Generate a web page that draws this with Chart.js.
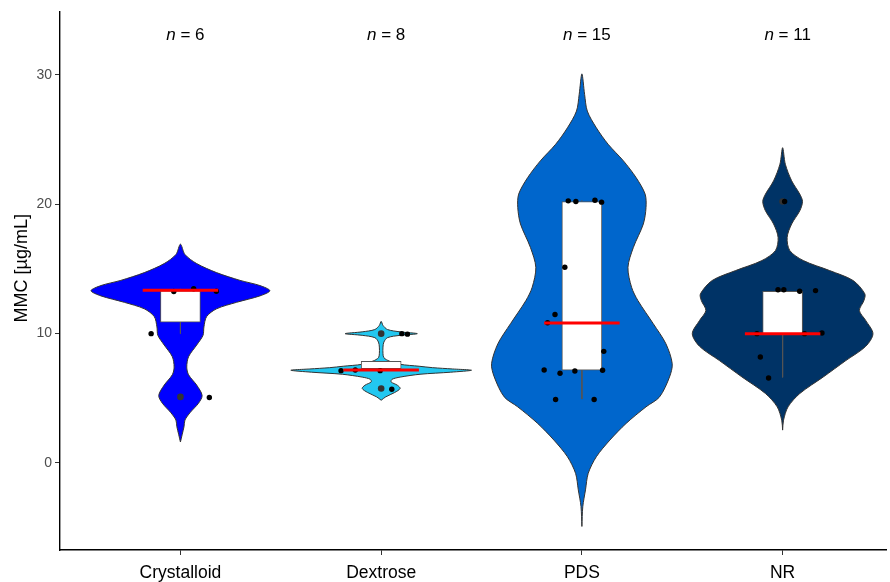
<!DOCTYPE html>
<html>
<head>
<meta charset="utf-8">
<script src="https://cdn.jsdelivr.net/npm/chart.js@4/dist/chart.umd.min.js"></script>
<style>
  body { margin: 0; background: #fff; }
  .chart_wrap { width: 890px; height: 582px; }
</style>
</head>
<body>
<div class="chart_wrap"><canvas id="mmc_violin"></canvas></div>
<script>
//! Data
const groups = ["Crystalloid", "Dextrose", "PDS", "NR"];
const groupCounts = [6, 8, 15, 11];
const yTicks = [0, 10, 20, 30];
const countLabelY = 33;

// violin outlines: y levels and relative density (1 = widest)
const crystalloidY = [1.6, 2.2, 2.8, 3.3, 3.9, 4.6, 5.2, 6.0, 6.8, 7.4, 8.2, 9.1, 9.85, 10.5, 11.3, 11.9, 12.4, 12.9, 13.3, 13.7, 14.1, 14.7, 15.4, 16.1, 16.9];
const crystalloidDensity = [0, 0.02, 0.04, 0.05, 0.11, 0.2, 0.24, 0.18, 0.09, 0.07, 0.09, 0.18, 0.25, 0.26, 0.29, 0.4, 0.62, 0.88, 0.99, 0.88, 0.66, 0.4, 0.18, 0.05, 0];

const dextroseY = [4.83, 5.09, 5.43, 5.74, 5.99, 6.25, 6.45, 6.62, 6.84, 7.0, 7.15, 7.25, 7.35, 7.46, 7.61, 7.86, 8.12, 8.43, 8.94, 9.33, 9.67, 9.85, 9.98, 10.12, 10.3, 10.62, 10.93];
const dextroseDensity = [0, 0.05, 0.15, 0.21, 0.18, 0.11, 0.12, 0.21, 0.43, 0.77, 1, 0.79, 0.57, 0.42, 0.21, 0.09, 0.03, 0.02, 0.02, 0.03, 0.07, 0.21, 0.4, 0.21, 0.07, 0.02, 0];

const pdsY = [-4.93, -3.39, -2.1, -0.82, 0.46, 1.75, 3.04, 4.32, 5.09, 6.63, 7.66, 9.2, 10.75, 12.54, 13.57, 15.11, 16.65, 18.46, 19.74, 20.77, 22.05, 23.34, 24.63, 25.9, 27.19, 28.48, 30.07];
const pdsDensity = [0, 0.01, 0.04, 0.07, 0.16, 0.31, 0.49, 0.71, 0.86, 0.97, 1, 0.93, 0.79, 0.62, 0.55, 0.51, 0.57, 0.68, 0.71, 0.7, 0.6, 0.46, 0.29, 0.16, 0.06, 0.03, 0];

const nrY = [2.52, 3.29, 4.32, 5.35, 6.63, 7.9, 9.0, 9.98, 11.0, 11.77, 12.54, 13.06, 14.09, 14.86, 15.63, 16.4, 17.42, 18.46, 19.48, 20.2, 20.77, 21.8, 23.08, 24.36];
const nrDensity = [0, 0.01, 0.06, 0.19, 0.45, 0.7, 0.92, 1, 0.92, 0.85, 0.9, 0.91, 0.78, 0.52, 0.23, 0.08, 0.05, 0.1, 0.19, 0.22, 0.19, 0.1, 0.03, 0];

// boxplot stats
const boxLow = [9.98, 7.12, 4.92, 6.6];
const boxQ1 = [10.87, 7.28, 7.15, 9.98];
const boxMedian = [13.33, 7.17, 10.8, 9.98];
const boxQ3 = [13.3, 7.84, 20.2, 13.26];
const boxHigh = [13.45, 7.84, 20.3, 13.37];

// boxplot outliers (group number, value)
const outlierGroup = [1, 2, 2, 4];
const outlierValue = [5.09, 9.98, 5.74, 20.2];

// jittered raw points
const jitterX = [0.967, 1.066, 1.179, 0.854, 1.144,
  2.103, 2.131, 1.8, 1.871, 1.995, 2.053,
  2.932, 2.97, 3.065, 3.098, 2.915, 2.866, 2.829, 3.109, 2.812, 2.891, 2.965, 3.103, 2.869, 3.061,
  4.01, 3.977, 4.006, 4.085, 4.164, 3.872, 4.109, 4.196, 3.889, 3.93];
const jitterY = [13.24, 13.45, 13.26, 9.98, 5.04,
  9.98, 9.94, 7.12, 7.17, 7.12, 5.68,
  20.25, 20.2, 20.3, 20.15, 15.11, 11.46, 10.82, 8.61, 7.17, 6.92, 7.09, 7.15, 4.89, 4.89,
  20.2, 13.37, 13.37, 13.26, 13.31, 9.98, 9.98, 10.03, 8.17, 6.55];

//! Styles
const violinColors = ["#0000ff", "#22c7f0", "#0066cc", "#003366"];
const fontFamily = "'Liberation Sans', Arial, sans-serif";
const halfWidth = 0.45;
const crossbarHalf = 0.188;

const violinY = [crystalloidY, dextroseY, pdsY, nrY];
const violinDensity = [crystalloidDensity, dextroseDensity, pdsDensity, nrDensity];

const violinShape = (center, ys, dens) => {
  let right = ys.map((y, k) => ({ x: center + dens[k] * halfWidth, y: y }));
  let left = ys.map((y, k) => ({ x: center - dens[k] * halfWidth, y: y })).reverse();
  return right.concat(left.slice(1));
};

let violinSets = groups.map((g, i) => ({
  type: "line",
  label: g,
  data: violinShape(i + 1, violinY[i], violinDensity[i]),
  fill: "shape",
  backgroundColor: violinColors[i],
  borderColor: "#333333",
  borderWidth: 1,
  pointRadius: 0,
  tension: 0.3,
  order: 10,
}));

let whiskerData = [];
let medianData = [];
groups.forEach((g, i) => {
  whiskerData.push({ x: i + 1, y: boxQ1[i] }, { x: i + 1, y: boxLow[i] }, { x: i + 1, y: null });
  whiskerData.push({ x: i + 1, y: boxQ3[i] }, { x: i + 1, y: boxHigh[i] }, { x: i + 1, y: null });
  medianData.push(
    { x: i + 1 - crossbarHalf, y: boxMedian[i] },
    { x: i + 1 + crossbarHalf, y: boxMedian[i] },
    { x: i + 1.5, y: null }
  );
});

//! n labels
const countLabels = {
  id: "countLabels",
  afterDraw(chart) {
    const { ctx, scales } = chart;
    ctx.save();
    ctx.fillStyle = "#000";
    ctx.textBaseline = "middle";
    ctx.textAlign = "left";
    groupCounts.forEach((n, i) => {
      let x = scales.x.getPixelForValue(i + 1);
      let y = scales.y.getPixelForValue(countLabelY);
      let rest = " = " + n;
      ctx.font = "italic 17px " + fontFamily;
      let w1 = ctx.measureText("n").width;
      ctx.font = "17px " + fontFamily;
      let w2 = ctx.measureText(rest).width;
      let start = x - (w1 + w2) / 2 + 5;
      ctx.font = "italic 17px " + fontFamily;
      ctx.fillText("n", start, y - 1);
      ctx.font = "17px " + fontFamily;
      ctx.fillText(rest, start + w1, y - 1);
    });
    ctx.restore();
  },
};

//! Chart
const ctx = document.getElementById("mmc_violin");
new Chart(ctx, {
  type: "line",
  data: {
    datasets: [
      ...violinSets,
      {
        type: "bar",
        label: "box",
        data: groups.map((g, i) => ({ x: i + 1, y: [boxQ1[i], boxQ3[i]] })),
        backgroundColor: "#ffffff",
        borderColor: "#555555",
        borderWidth: 1,
        borderSkipped: false,
        barThickness: 40,
        order: 8,
      },
      {
        type: "line",
        label: "whiskers",
        data: whiskerData,
        borderColor: "#555555",
        borderWidth: 1,
        pointRadius: 0,
        spanGaps: false,
        fill: false,
        order: 9,
      },
      {
        type: "scatter",
        label: "outliers",
        data: outlierGroup.map((g, k) => ({ x: g, y: outlierValue[k] })),
        pointRadius: 3.3,
        pointBackgroundColor: "#333333",
        pointBorderWidth: 0,
        order: 7,
      },
      {
        type: "scatter",
        label: "points",
        data: jitterX.map((x, k) => ({ x: x, y: jitterY[k] })),
        pointRadius: 2.7,
        pointBackgroundColor: "#000000",
        pointBorderWidth: 0,
        order: 6,
      },
      {
        type: "line",
        label: "median",
        data: medianData,
        borderColor: "#ff0000",
        borderWidth: 3,
        pointRadius: 0,
        spanGaps: false,
        fill: false,
        order: 5,
      },
    ],
  },
  options: {
    responsive: true,
    maintainAspectRatio: false,
    animation: false,
    events: [],
    layout: {
      padding: { top: 8, left: 0, right: 0, bottom: 0 },
    },
    plugins: {
      legend: { display: false },
      tooltip: { enabled: false },
    },
    scales: {
      x: {
        type: "linear",
        min: 0.4,
        max: 4.515,
        offset: false,
        afterBuildTicks: (axis) => {
          axis.ticks = groups.map((g, i) => ({ value: i + 1 }));
        },
        afterFit: (axis) => {
          axis.height = 32;
        },
        ticks: {
          callback: (v) => groups[v - 1],
          color: "#000",
          font: { size: 17.5, family: fontFamily },
          padding: 8,
          maxRotation: 0,
          autoSkip: false,
        },
        grid: {
          offset: false,
          drawOnChartArea: false,
          drawTicks: true,
          tickLength: 5,
          color: "#333",
        },
        border: { display: true, color: "#000", width: 1.4 },
      },
      y: {
        min: -6.75,
        max: 34.9,
        afterBuildTicks: (axis) => {
          axis.ticks = yTicks.map((v) => ({ value: v }));
        },
        afterFit: (axis) => {
          axis.width = 60;
        },
        ticks: {
          callback: (v) => String(v),
          color: "#4d4d4d",
          font: { size: 14, family: fontFamily },
          padding: 3,
        },
        grid: {
          drawOnChartArea: false,
          drawTicks: true,
          tickLength: 5,
          color: "#333",
        },
        border: { display: true, color: "#000", width: 1.4 },
        title: {
          display: true,
          // leading spaces lift the rotated title a little, as in the original
          text: "     MMC [µg/mL]",
          color: "#000",
          font: { size: 18, family: fontFamily },
          padding: { top: 11, bottom: 0 },
        },
      },
    },
  },
  plugins: [countLabels],
});
</script>
</body>
</html>
